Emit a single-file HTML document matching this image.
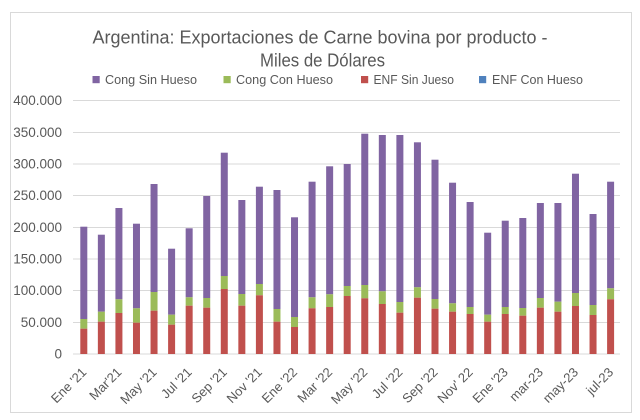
<!DOCTYPE html>
<html><head><meta charset="utf-8"><style>
html,body{margin:0;padding:0;background:#fff;}
svg{display:block;}
text{font-family:"Liberation Sans",sans-serif;fill:#595959;}
</style></head><body>
<svg width="640" height="420" viewBox="0 0 640 420" xmlns="http://www.w3.org/2000/svg">
<rect x="0" y="0" width="640" height="420" fill="#fff"/>
<rect x="10.5" y="12.5" width="621" height="400" fill="#fff" stroke="#d9d9d9" stroke-width="1"/>
<text x="320" y="43.5" font-size="18.5" text-anchor="middle" textLength="455" lengthAdjust="spacingAndGlyphs">Argentina: Exportaciones de Carne bovina por producto -</text>
<text x="322.5" y="66.5" font-size="18.5" text-anchor="middle" textLength="125" lengthAdjust="spacingAndGlyphs">Miles de Dólares</text>
<g font-size="12.5">
<rect x="92.5" y="76" width="7.2" height="7.2" fill="#8064A2"/>
<text x="105" y="83.8" textLength="92" lengthAdjust="spacingAndGlyphs">Cong Sin Hueso</text>
<rect x="223.5" y="76" width="7.2" height="7.2" fill="#9BBB59"/>
<text x="236" y="83.8" textLength="97" lengthAdjust="spacingAndGlyphs">Cong Con Hueso</text>
<rect x="361" y="76" width="7.2" height="7.2" fill="#C0504D"/>
<text x="373.5" y="83.8" textLength="80.5" lengthAdjust="spacingAndGlyphs">ENF Sin Jueso</text>
<rect x="479" y="76" width="7.2" height="7.2" fill="#4F81BD"/>
<text x="492" y="83.8" textLength="91" lengthAdjust="spacingAndGlyphs">ENF Con Hueso</text>
</g>
<g stroke="#d9d9d9" stroke-width="1">
<line x1="73" x2="620" y1="100.5" y2="100.5"/>
<line x1="73" x2="620" y1="132.5" y2="132.5"/>
<line x1="73" x2="620" y1="164" y2="164"/>
<line x1="73" x2="620" y1="195.5" y2="195.5"/>
<line x1="73" x2="620" y1="227.5" y2="227.5"/>
<line x1="73" x2="620" y1="259" y2="259"/>
<line x1="73" x2="620" y1="290.5" y2="290.5"/>
<line x1="73" x2="620" y1="322.5" y2="322.5"/>
<line x1="73" x2="620" y1="354" y2="354"/>
</g>
<g font-size="13.5" text-anchor="end">
<text x="62" y="105">400.000</text>
<text x="62" y="137">350.000</text>
<text x="62" y="168.5">300.000</text>
<text x="62" y="200">250.000</text>
<text x="62" y="232">200.000</text>
<text x="62" y="263.5">150.000</text>
<text x="62" y="295">100.000</text>
<text x="62" y="327">50.000</text>
<text x="62" y="358.5">0</text>
</g>
<g fill="#8064A2">
<rect x="80.3" y="226.7" width="7" height="92.3"/>
<rect x="97.86" y="234.7" width="7" height="77"/>
<rect x="115.42" y="208" width="7" height="91.3"/>
<rect x="132.98" y="223.7" width="7" height="84.6"/>
<rect x="150.54" y="184" width="7" height="108"/>
<rect x="168.1" y="248.7" width="7" height="66"/>
<rect x="185.66" y="228.3" width="7" height="69"/>
<rect x="203.22" y="196" width="7" height="102"/>
<rect x="220.78" y="152.7" width="7" height="123.3"/>
<rect x="238.34" y="200" width="7" height="94"/>
<rect x="255.9" y="186.7" width="7" height="97.3"/>
<rect x="273.46" y="190" width="7" height="119"/>
<rect x="291.02" y="217.3" width="7" height="99.7"/>
<rect x="308.58" y="181.7" width="7" height="115.6"/>
<rect x="326.14" y="166.3" width="7" height="128"/>
<rect x="343.7" y="164" width="7" height="122"/>
<rect x="361.26" y="133.7" width="7" height="151.3"/>
<rect x="378.82" y="135" width="7" height="156.3"/>
<rect x="396.38" y="135" width="7" height="167"/>
<rect x="413.94" y="142.3" width="7" height="145"/>
<rect x="431.5" y="159.7" width="7" height="139.3"/>
<rect x="449.06" y="182.7" width="7" height="120.6"/>
<rect x="466.62" y="202" width="7" height="105"/>
<rect x="484.18" y="232.7" width="7" height="82"/>
<rect x="501.74" y="220.7" width="7" height="86.3"/>
<rect x="519.3" y="218" width="7" height="90"/>
<rect x="536.86" y="203" width="7" height="95"/>
<rect x="554.42" y="203" width="7" height="98.7"/>
<rect x="571.98" y="173.7" width="7" height="119.3"/>
<rect x="589.54" y="214" width="7" height="91"/>
<rect x="607.1" y="181.7" width="7" height="106.6"/>
</g>
<g fill="#9BBB59">
<rect x="80.3" y="319" width="7" height="9.7"/>
<rect x="97.86" y="311.7" width="7" height="10"/>
<rect x="115.42" y="299.3" width="7" height="13.7"/>
<rect x="132.98" y="308.3" width="7" height="14.4"/>
<rect x="150.54" y="292" width="7" height="18.7"/>
<rect x="168.1" y="314.7" width="7" height="10"/>
<rect x="185.66" y="297.3" width="7" height="8.4"/>
<rect x="203.22" y="298" width="7" height="9.7"/>
<rect x="220.78" y="276" width="7" height="13"/>
<rect x="238.34" y="294" width="7" height="11.7"/>
<rect x="255.9" y="284" width="7" height="11.3"/>
<rect x="273.46" y="309" width="7" height="12.7"/>
<rect x="291.02" y="317" width="7" height="10"/>
<rect x="308.58" y="297.3" width="7" height="11"/>
<rect x="326.14" y="294.3" width="7" height="12.7"/>
<rect x="343.7" y="286" width="7" height="10"/>
<rect x="361.26" y="285" width="7" height="13.3"/>
<rect x="378.82" y="291.3" width="7" height="12.7"/>
<rect x="396.38" y="302" width="7" height="10.7"/>
<rect x="413.94" y="287.3" width="7" height="10.4"/>
<rect x="431.5" y="299" width="7" height="9.7"/>
<rect x="449.06" y="303.3" width="7" height="8.4"/>
<rect x="466.62" y="307" width="7" height="7"/>
<rect x="484.18" y="314.7" width="7" height="7"/>
<rect x="501.74" y="307" width="7" height="7"/>
<rect x="519.3" y="308" width="7" height="7.7"/>
<rect x="536.86" y="298" width="7" height="9.7"/>
<rect x="554.42" y="301.7" width="7" height="10"/>
<rect x="571.98" y="293" width="7" height="13"/>
<rect x="589.54" y="305" width="7" height="10"/>
<rect x="607.1" y="288.3" width="7" height="11"/>
</g>
<g fill="#C0504D">
<rect x="80.3" y="328.7" width="7" height="25.3"/>
<rect x="97.86" y="321.7" width="7" height="32.3"/>
<rect x="115.42" y="313" width="7" height="41"/>
<rect x="132.98" y="322.7" width="7" height="31.3"/>
<rect x="150.54" y="310.7" width="7" height="43.3"/>
<rect x="168.1" y="324.7" width="7" height="29.3"/>
<rect x="185.66" y="305.7" width="7" height="48.3"/>
<rect x="203.22" y="307.7" width="7" height="46.3"/>
<rect x="220.78" y="289" width="7" height="65"/>
<rect x="238.34" y="305.7" width="7" height="48.3"/>
<rect x="255.9" y="295.3" width="7" height="58.7"/>
<rect x="273.46" y="321.7" width="7" height="32.3"/>
<rect x="291.02" y="327" width="7" height="27"/>
<rect x="308.58" y="308.3" width="7" height="45.7"/>
<rect x="326.14" y="307" width="7" height="47"/>
<rect x="343.7" y="296" width="7" height="58"/>
<rect x="361.26" y="298.3" width="7" height="55.7"/>
<rect x="378.82" y="304" width="7" height="50"/>
<rect x="396.38" y="312.7" width="7" height="41.3"/>
<rect x="413.94" y="297.7" width="7" height="56.3"/>
<rect x="431.5" y="308.7" width="7" height="45.3"/>
<rect x="449.06" y="311.7" width="7" height="42.3"/>
<rect x="466.62" y="314" width="7" height="40"/>
<rect x="484.18" y="321.7" width="7" height="32.3"/>
<rect x="501.74" y="314" width="7" height="40"/>
<rect x="519.3" y="315.7" width="7" height="38.3"/>
<rect x="536.86" y="307.7" width="7" height="46.3"/>
<rect x="554.42" y="311.7" width="7" height="42.3"/>
<rect x="571.98" y="306" width="7" height="48"/>
<rect x="589.54" y="315" width="7" height="39"/>
<rect x="607.1" y="299.3" width="7" height="54.7"/>
</g>
<g font-size="13" text-anchor="end">
<text x="87.3" y="373" transform="rotate(-45 87.3 373)">Ene '21</text>
<text x="122.42" y="373" transform="rotate(-45 122.42 373)">Mar'21</text>
<text x="157.54" y="373" transform="rotate(-45 157.54 373)">May '21</text>
<text x="192.66" y="373" transform="rotate(-45 192.66 373)">Jul '21</text>
<text x="227.78" y="373" transform="rotate(-45 227.78 373)">Sep '21</text>
<text x="262.9" y="373" transform="rotate(-45 262.9 373)">Nov '21</text>
<text x="298.02" y="373" transform="rotate(-45 298.02 373)">Ene '22</text>
<text x="333.14" y="373" transform="rotate(-45 333.14 373)">Mar '22</text>
<text x="368.26" y="373" transform="rotate(-45 368.26 373)">May '22</text>
<text x="403.38" y="373" transform="rotate(-45 403.38 373)">Jul '22</text>
<text x="438.5" y="373" transform="rotate(-45 438.5 373)">Sep '22</text>
<text x="473.62" y="373" transform="rotate(-45 473.62 373)">Nov' 22</text>
<text x="508.74" y="373" transform="rotate(-45 508.74 373)">Ene '23</text>
<text x="543.86" y="373" transform="rotate(-45 543.86 373)">mar-23</text>
<text x="578.98" y="373" transform="rotate(-45 578.98 373)">may-23</text>
<text x="614.1" y="373" transform="rotate(-45 614.1 373)">jul-23</text>
</g>
</svg>
</body></html>
